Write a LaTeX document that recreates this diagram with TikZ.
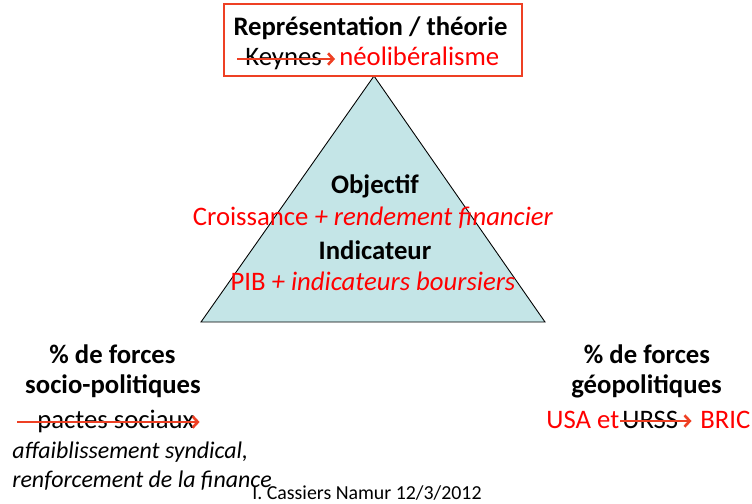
\documentclass[tikz,border=0pt]{standalone}
\usepackage{fontspec}
\setmainfont{Carlito}
\usetikzlibrary{positioning,arrows.meta}
\definecolor{rouge}{RGB}{255,0,0}
\definecolor{trait}{RGB}{238,64,36}
\definecolor{bleu}{RGB}{196,229,231}
\tikzset{
    every node/.style={inner sep=0mm, anchor=base, font=\fontsize{15.2}{18}\selectfont}
}
\tikzset{
    titre/.style={font=\fontsize{15.2}{18}\selectfont\bfseries},
    rouge/.style={text=rouge},
    petit/.style={font=\fontsize{13.6}{16}\selectfont\itshape},
    barre/.style={draw=trait, line width=0.8pt, -{Straight Barb[length=3pt,width=6.5pt,line width=1.5pt]}}
}

\begin{document}
\begin{tikzpicture}
    \useasboundingbox (0,0) rectangle (15.04,10.06);

    \coordinate (sommet) at (7.48cm, 8.54cm);
    \coordinate (gauche) at (4.02cm, 3.62cm);
    \coordinate (droite) at (10.90cm, 3.62cm);
    \filldraw[fill=bleu, draw=black, line width=0.5pt] (sommet) -- (gauche) -- (droite) -- cycle;

    \node (rep) [draw=trait, line width=0.8pt, anchor=center, minimum width=5.96cm, minimum height=1.44cm] at (7.46cm, 9.26cm) {};
    \node (theorie) [titre] at (7.41cm, 9.36cm) {Représentation / théorie};
    \node (keynes) [anchor=base west] at (4.90cm, 8.76cm) {Keynes};
    \node (neolib) [rouge, anchor=base west] at (6.78cm, 8.76cm) {néolibéralisme};

    \node (objectif) [titre] at (7.50cm, 6.20cm) {Objectif};
    \node (croissance) [rouge] at (7.46cm, 5.56cm) {Croissance \textit{+ rendement financier}};
    \node (indicateur) [titre] at (7.50cm, 4.88cm) {Indicateur};
    \node (pib) [rouge] at (7.46cm, 4.26cm) {PIB \textit{+ indicateurs boursiers}};

    \node (forcesg) [titre] at (2.25cm, 2.80cm) {\% de forces};
    \node (socio) [titre] at (2.26cm, 2.20cm) {socio-politiques};
    \node (pactes) [anchor=base west] at (0.74cm, 1.50cm) {pactes sociaux};
    \node (affai) [petit, anchor=base west] at (0.24cm, 0.90cm) {affaiblissement syndical,};
    \node (renfo) [petit, anchor=base west] at (0.24cm, 0.32cm) {renforcement de la finance};

    \node (forcesd) [titre] at (12.94cm, 2.80cm) {\% de forces};
    \node (geo) [titre] at (12.93cm, 2.20cm) {géopolitiques};
    \node (usa) [rouge, anchor=base west] at (10.92cm, 1.50cm) {USA et};
    \node (urss) [anchor=base west] at (12.44cm, 1.50cm) {URSS};
    \node (bric) [rouge, anchor=base west] at (14.00cm, 1.50cm) {BRIC};

    \node (auteur) [anchor=base west, font=\fontsize{11.3}{13}\selectfont] at (5.04cm, 0.08cm) {I. Cassiers Namur 12/3/2012};

    \draw[barre] ([xshift=-0.16cm, yshift=0.12cm]keynes.base west) -- ([xshift=0.26cm, yshift=0.12cm]keynes.base east);
    \draw[barre] ([xshift=-0.40cm, yshift=0.12cm]pactes.base west) -- ([xshift=0.10cm, yshift=0.12cm]pactes.base east);
    \draw[barre] ([xshift=-0.04cm, yshift=0.14cm]urss.base west) -- ([xshift=0.26cm, yshift=0.14cm]urss.base east);
\end{tikzpicture}
\end{document}
